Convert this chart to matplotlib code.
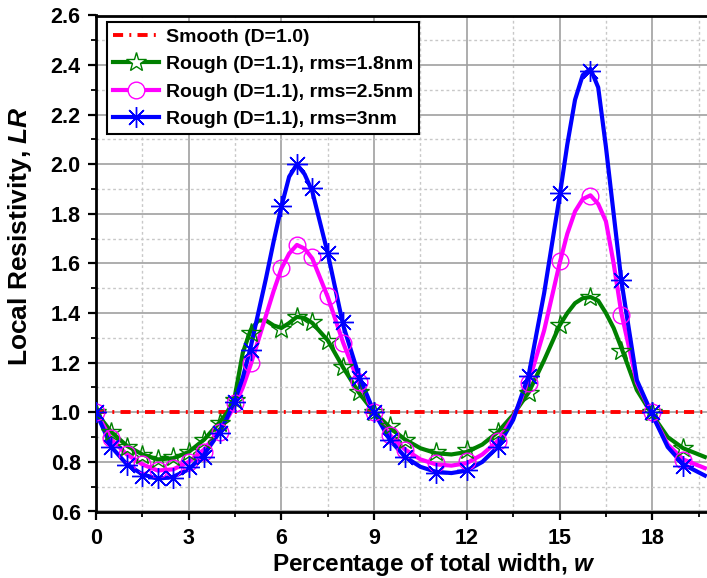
import matplotlib
matplotlib.use("Agg")
import matplotlib.pyplot as plt
from matplotlib.ticker import MultipleLocator

plt.rcParams['font.family'] = ['Liberation Sans', 'DejaVu Sans']
plt.rcParams['font.weight'] = 'bold'
plt.rcParams['mathtext.fontset'] = 'custom'
plt.rcParams['mathtext.it'] = 'Liberation Sans:italic:bold'
plt.rcParams['mathtext.rm'] = 'Liberation Sans:bold'

# ---- data: markers (simulated points) ----
mk_x = [0, 0.5, 1, 1.5, 2, 2.5, 3, 3.5, 4, 4.5, 5, 6, 6.5, 7, 7.5, 8, 8.5, 9,
        9.5, 10, 11, 12, 13, 14, 15, 16, 17, 18, 19]
green_mk = [1.0, 0.922, 0.861, 0.827, 0.813, 0.82, 0.841, 0.888, 0.955, 1.05, 1.32,
            1.334, 1.386, 1.363, 1.287, 1.184, 1.082, 1.0, 0.945, 0.888, 0.841, 0.847,
            0.922, 1.077, 1.352, 1.466, 1.248, 1.0, 0.855]
magenta_mk = [1.0, 0.895, 0.831, 0.79, 0.767, 0.774, 0.80, 0.841, 0.922, 1.036, 1.2,
              1.581, 1.674, 1.625, 1.467, 1.28, 1.122, 1.0, 0.909, 0.85, 0.796, 0.803,
              0.883, 1.117, 1.61, 1.872, 1.392, 1.0, 0.808]
blue_mk = [1.0, 0.86, 0.787, 0.743, 0.734, 0.734, 0.781, 0.821, 0.915, 1.043, 1.25,
           1.83, 2.0, 1.904, 1.641, 1.363, 1.14, 1.0, 0.888, 0.821, 0.754, 0.767,
           0.861, 1.146, 1.883, 2.377, 1.533, 1.0, 0.784]

# ---- data: fitted smooth curves ----
cv_x = [0, 0.5, 1, 1.5, 2, 2.5, 3, 3.5, 4, 4.25, 4.5, 4.75, 5, 5.25, 5.5, 5.75, 6,
        6.25, 6.5, 6.75, 7, 7.5, 8, 8.5, 9, 9.5, 10, 10.5, 11, 11.5, 12, 12.5, 13,
        13.5, 14, 14.5, 15, 15.25, 15.5, 15.75, 16, 16.25, 16.5, 16.75, 17, 17.5, 18,
        18.5, 19, 19.7]
green_cv = [1.0, 0.92, 0.865, 0.83, 0.81, 0.815, 0.84, 0.89, 0.96, 1.0, 1.07, 1.24,
            1.33, 1.37, 1.37, 1.35, 1.34, 1.36, 1.385, 1.38, 1.36, 1.29, 1.18, 1.08,
            1.0, 0.94, 0.89, 0.855, 0.835, 0.83, 0.84, 0.87, 0.92, 0.99, 1.08, 1.21,
            1.35, 1.40, 1.44, 1.46, 1.465, 1.45, 1.40, 1.34, 1.26, 1.09, 0.99, 0.90,
            0.855, 0.82]
magenta_cv = [1.0, 0.89, 0.83, 0.79, 0.765, 0.77, 0.80, 0.85, 0.93, 0.975, 1.03,
              1.1, 1.19, 1.29, 1.39, 1.49, 1.58, 1.64, 1.675, 1.66, 1.62, 1.465, 1.28,
              1.12, 1.0, 0.91, 0.85, 0.81, 0.79, 0.785, 0.795, 0.83, 0.885, 0.98, 1.12,
              1.33, 1.6, 1.72, 1.81, 1.86, 1.875, 1.84, 1.77, 1.6, 1.40, 1.12, 0.99,
              0.87, 0.81, 0.775]
blue_cv = [1.0, 0.86, 0.79, 0.75, 0.732, 0.74, 0.77, 0.83, 0.92, 0.98, 1.05, 1.14,
           1.26, 1.40, 1.54, 1.69, 1.83, 1.95, 2.0, 1.96, 1.89, 1.64, 1.35, 1.15, 1.0,
           0.89, 0.82, 0.78, 0.76, 0.755, 0.765, 0.80, 0.86, 0.97, 1.15, 1.48, 1.87,
           2.08, 2.26, 2.36, 2.385, 2.31, 2.07, 1.80, 1.53, 1.13, 0.99, 0.86, 0.79,
           0.745]

smooth_x = [0, 21]
smooth_y = [1.0, 1.0]

labels = ['Smooth (D=1.0)', 'Rough (D=1.1), rms=1.8nm',
          'Rough (D=1.1), rms=2.5nm', 'Rough (D=1.1), rms=3nm']

W, H = 707, 578
fig = plt.figure(figsize=(W / 100, H / 100), dpi=100)
x0, x1 = 96, 745
y_top, y_bot = 15.5, 511.5
ax = fig.add_axes([x0 / W, 1 - y_bot / H, (x1 - x0) / W, (y_bot - y_top) / H])

red = '#ff0000'
green = '#008000'
magenta = '#ff00ff'
blue = '#0000ff'
lw = 3.0

l0, = ax.plot(smooth_x, smooth_y, color=red, lw=2.8, dashes=(2.6, 1.6, 0.5, 1.6), zorder=3)

def series(xc, yc, xm, ym, color, marker, ms, mew):
    ax.plot(xc, yc, color=color, lw=lw, zorder=4, solid_joinstyle='round')
    ax.plot(xm, ym, ls='none', marker=marker, ms=ms, mfc='none', mec=color, mew=mew, zorder=5)
    return plt.Line2D([], [], color=color, lw=lw, marker=marker, ms=ms,
                      mfc='white', mec=color, mew=mew)

h1 = series(cv_x, green_cv, mk_x, green_mk, green, '*', 15, 1.0)
h2 = series(cv_x, magenta_cv, mk_x, magenta_mk, magenta, 'o', 12, 1.0)
h3 = series(cv_x, blue_cv, mk_x, blue_mk, blue, (8, 2, 0), 15, 1.0)

ax.set_xlim(0, 21)
ax.set_ylim(0.6, 2.6)
ax.xaxis.set_major_locator(MultipleLocator(3))
ax.xaxis.set_minor_locator(MultipleLocator(1.5))
ax.yaxis.set_major_locator(MultipleLocator(0.2))
ax.yaxis.set_minor_locator(MultipleLocator(0.1))
ax.yaxis.set_major_formatter(plt.FuncFormatter(lambda v, p: f'{v:.1f}'))

ax.grid(True, which='major', color='#a0a0a0', lw=1.2, ls='-', zorder=0)
ax.grid(True, which='minor', color='#c8c8c8', lw=1.0, ls=(0, (2, 2)), zorder=0)
ax.set_axisbelow(True)

for s in ['left', 'bottom', 'top']:
    ax.spines[s].set_linewidth(2.0)
ax.spines['right'].set_visible(False)

ax.tick_params(which='major', direction='out', length=6, width=1.6, labelsize=15.5, pad=5)
ax.tick_params(which='minor', direction='out', length=3.5, width=1.3)
ax.tick_params(axis='x', which='major', pad=6)

ax.set_xlabel(r'Percentage of total width, $w$', fontsize=17.5, fontweight='bold')
ax.set_ylabel(r'Local Resistivity, $LR$', fontsize=19, fontweight='bold')
ax.xaxis.set_label_coords((434 - x0) / (x1 - x0), -(551.5 - y_bot) / (y_bot - y_top))
ax.yaxis.set_label_coords(-(x0 - 34) / (x1 - x0), (y_bot - 236) / (y_bot - y_top))

leg = ax.legend([l0, h1, h2, h3], labels, loc='upper left',
                bbox_to_anchor=(0.0165, 0.986), borderaxespad=0, fontsize=14,
                numpoints=1, handlelength=2.4, handletextpad=0.35, labelspacing=0.5,
                fancybox=False, framealpha=1, edgecolor='black', borderpad=0.3)
leg.get_frame().set_linewidth(1.5)
for t in leg.get_texts():
    t.set_fontweight('bold')

fig.savefig('out.png', dpi=100)
